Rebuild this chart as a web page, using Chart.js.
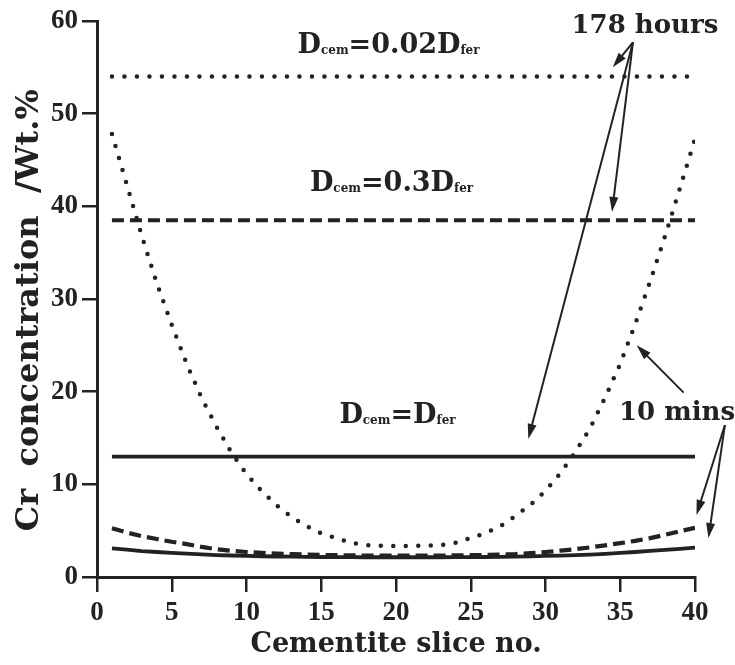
<!DOCTYPE html>
<html>
<head>
<meta charset="utf-8">
<script src="https://cdn.jsdelivr.net/npm/chart.js@4"></script>
<style>
  body { margin: 0; background: #fff; }
  canvas { display: block; }
</style>
</head>
<body>
<canvas id="chart" width="735" height="665"></canvas>
<script>
const slices = [1, 2, 3, 4, 5, 6, 7, 8, 9, 10, 11, 12, 13, 14, 15, 16, 17, 18, 19, 20,
  21, 22, 23, 24, 25, 26, 27, 28, 29, 30, 31, 32, 33, 34, 35, 36, 37, 38, 39, 40];

// 178 hours: flat profiles
const hrs178Fer1 = [13, 13, 13, 13, 13, 13, 13, 13, 13, 13, 13, 13, 13, 13, 13, 13, 13, 13, 13, 13,
  13, 13, 13, 13, 13, 13, 13, 13, 13, 13, 13, 13, 13, 13, 13, 13, 13, 13, 13, 13];
const hrs178Fer03 = [38.5, 38.5, 38.5, 38.5, 38.5, 38.5, 38.5, 38.5, 38.5, 38.5, 38.5, 38.5, 38.5, 38.5, 38.5, 38.5, 38.5, 38.5, 38.5, 38.5,
  38.5, 38.5, 38.5, 38.5, 38.5, 38.5, 38.5, 38.5, 38.5, 38.5, 38.5, 38.5, 38.5, 38.5, 38.5, 38.5, 38.5, 38.5, 38.5, 38.5];
const hrs178Fer002 = [54, 54, 54, 54, 54, 54, 54, 54, 54, 54, 54, 54, 54, 54, 54, 54, 54, 54, 54, 54,
  54, 54, 54, 54, 54, 54, 54, 54, 54, 54, 54, 54, 54, 54, 54, 54, 54, 54, 54, 54];

// 10 mins profiles
const min10Fer1 = [3.1, 2.95, 2.8, 2.7, 2.6, 2.52, 2.44, 2.37, 2.32, 2.28, 2.24, 2.21, 2.19, 2.17, 2.16, 2.15, 2.14, 2.13, 2.13, 2.13,
  2.13, 2.13, 2.13, 2.14, 2.15, 2.16, 2.18, 2.2, 2.23, 2.27, 2.31, 2.36, 2.42, 2.5, 2.6, 2.7, 2.82, 2.93, 3.04, 3.16];
const min10Fer03 = [5.25, 4.8, 4.4, 4.1, 3.8, 3.55, 3.25, 3.0, 2.82, 2.7, 2.6, 2.52, 2.46, 2.42, 2.38, 2.35, 2.33, 2.31, 2.3, 2.3,
  2.3, 2.3, 2.31, 2.33, 2.35, 2.38, 2.42, 2.48, 2.58, 2.7, 2.84, 3.0, 3.2, 3.42, 3.65, 3.9, 4.2, 4.55, 4.95, 5.3];
const min10Fer002 = [47.8, 42.3, 36.8, 31.7, 27.2, 23.0, 19.3, 16.2, 13.4, 11.1, 9.3, 7.75, 6.5, 5.5, 4.7, 4.2, 3.7, 3.45, 3.37, 3.35,
  3.35, 3.37, 3.45, 3.7, 4.2, 4.75, 5.5, 6.6, 7.8, 9.3, 11.2, 13.5, 16.1, 19.4, 23.0, 27.3, 31.9, 36.8, 42.0, 47.3];

const xTicks = [0, 5, 10, 15, 20, 25, 30, 35, 40];
const yTicks = [0, 10, 20, 30, 40, 50, 60];

const INK = '#222';
const SERIF = '"DejaVu Serif", serif';
const TICKFONT = { family: '"Liberation Serif", serif', weight: 'bold', size: 27 };

const pts = vals => vals.map((v, i) => ({ x: slices[i], y: v }));

function lineSet(label, vals, style) {
  const base = {
    label,
    data: pts(vals),
    borderColor: INK,
    pointRadius: 0,
    tension: 0,
    fill: false,
    borderJoinStyle: 'round'
  };
  if (style === 'solid') return { ...base, borderWidth: 3.8 };
  if (style === 'dash') return { ...base, borderWidth: 4.2, borderDash: [12, 6] };
  return { ...base, borderWidth: 4.5, borderDash: [0, 12.5], borderCapStyle: 'round' };
}

function drawArrow(ctx, x1, y1, x2, y2) {
  const ang = Math.atan2(y2 - y1, x2 - x1);
  const len = 15, half = 4.5;
  ctx.beginPath();
  ctx.moveTo(x1, y1);
  ctx.lineTo(x2 - Math.cos(ang) * len * 0.8, y2 - Math.sin(ang) * len * 0.8);
  ctx.lineWidth = 2;
  ctx.strokeStyle = INK;
  ctx.stroke();
  ctx.beginPath();
  ctx.moveTo(x2, y2);
  ctx.lineTo(x2 - Math.cos(ang) * len - Math.sin(ang) * half, y2 - Math.sin(ang) * len + Math.cos(ang) * half);
  ctx.lineTo(x2 - Math.cos(ang) * len + Math.sin(ang) * half, y2 - Math.sin(ang) * len - Math.cos(ang) * half);
  ctx.closePath();
  ctx.fillStyle = INK;
  ctx.fill();
}

// text runs: [text, isSubscript]
function drawRuns(ctx, runs, cx, by, size) {
  const big = `bold ${size}px ${SERIF}`;
  const small = `bold ${Math.round(size * 0.45)}px ${SERIF}`;
  let total = 0;
  runs.forEach(([t, sub]) => { ctx.font = sub ? small : big; total += ctx.measureText(t).width; });
  let x = cx - total / 2;
  ctx.fillStyle = INK;
  ctx.textAlign = 'left';
  ctx.textBaseline = 'alphabetic';
  runs.forEach(([t, sub]) => {
    ctx.font = sub ? small : big;
    ctx.fillText(t, x, by + (sub ? 1 : 0));
    x += ctx.measureText(t).width;
  });
}

const notes = {
  id: 'notes',
  afterDraw(chart) {
    const { ctx, scales: { x, y } } = chart;
    const P = (a, b) => [x.getPixelForValue(a), y.getPixelForValue(b)];
    ctx.save();

    let [px, py] = P(19.5, 56.6);
    drawRuns(ctx, [['D', false], ['cem', true], ['=0.02D', false], ['fer', true]], px, py, 27);
    [px, py] = P(19.7, 41.7);
    drawRuns(ctx, [['D', false], ['cem', true], ['=0.3D', false], ['fer', true]], px, py, 27);
    [px, py] = P(20.1, 16.6);
    drawRuns(ctx, [['D', false], ['cem', true], ['=D', false], ['fer', true]], px, py, 27);
    [px, py] = P(36.65, 58.7);
    drawRuns(ctx, [['178 hours', false]], px, py, 26);
    [px, py] = P(38.8, 16.9);
    drawRuns(ctx, [['10 mins', false]], px, py, 26);

    // 178 hours arrows
    const s1 = P(35.85, 57.7);
    drawArrow(ctx, ...s1, ...P(34.5, 55.0));
    drawArrow(ctx, ...s1, ...P(34.45, 39.4));
    drawArrow(ctx, ...s1, ...P(28.85, 14.9));
    // 10 mins arrows
    drawArrow(ctx, ...P(39.24, 19.9), ...P(36.1, 25.0));
    const s2 = P(42.0, 16.4);
    drawArrow(ctx, ...s2, ...P(40.1, 6.7));
    drawArrow(ctx, ...s2, ...P(40.9, 4.2));

    ctx.restore();
  }
};

new Chart(document.getElementById('chart'), {
  type: 'line',
  data: {
    datasets: [
      lineSet('178 hours, Dcem=0.02Dfer', hrs178Fer002, 'dot'),
      lineSet('178 hours, Dcem=0.3Dfer', hrs178Fer03, 'dash'),
      lineSet('178 hours, Dcem=Dfer', hrs178Fer1, 'solid'),
      lineSet('10 mins, Dcem=0.02Dfer', min10Fer002, 'dot'),
      lineSet('10 mins, Dcem=0.3Dfer', min10Fer03, 'dash'),
      lineSet('10 mins, Dcem=Dfer', min10Fer1, 'solid')
    ]
  },
  options: {
    responsive: false,
    animation: false,
    layout: { padding: { top: 21, right: 40, left: 0, bottom: 0 } },
    plugins: { legend: { display: false }, tooltip: { enabled: false } },
    scales: {
      x: {
        type: 'linear',
        min: 0,
        max: 40,
        afterBuildTicks: s => { s.ticks = xTicks.map(v => ({ value: v })); },
        afterFit: s => { s.height = 88; },
        ticks: { color: INK, padding: 5, font: TICKFONT },
        grid: { drawOnChartArea: false, tickLength: 15, color: INK, lineWidth: 2.5 },
        border: { color: INK, width: 3 },
        title: {
          display: true,
          text: 'Cementite slice no.',
          color: INK,
          font: { family: SERIF, weight: 'bold', size: 27 },
          padding: { top: 0, bottom: 4 }
        }
      },
      y: {
        min: 0,
        max: 60,
        afterBuildTicks: s => { s.ticks = yTicks.map(v => ({ value: v })); },
        afterFit: s => { s.width = 97; },
        ticks: { color: INK, padding: 4, font: TICKFONT },
        grid: { drawOnChartArea: false, tickLength: 15, color: INK, lineWidth: 2.5 },
        border: { color: INK, width: 3 },
        title: {
          display: true,
          text: 'Cr  concentration  /Wt.%  ',
          color: INK,
          font: { family: SERIF, weight: 'bold', size: 32 },
          padding: { top: 10, bottom: 0 }
        }
      }
    }
  },
  plugins: [notes]
});
</script>
</body>
</html>
